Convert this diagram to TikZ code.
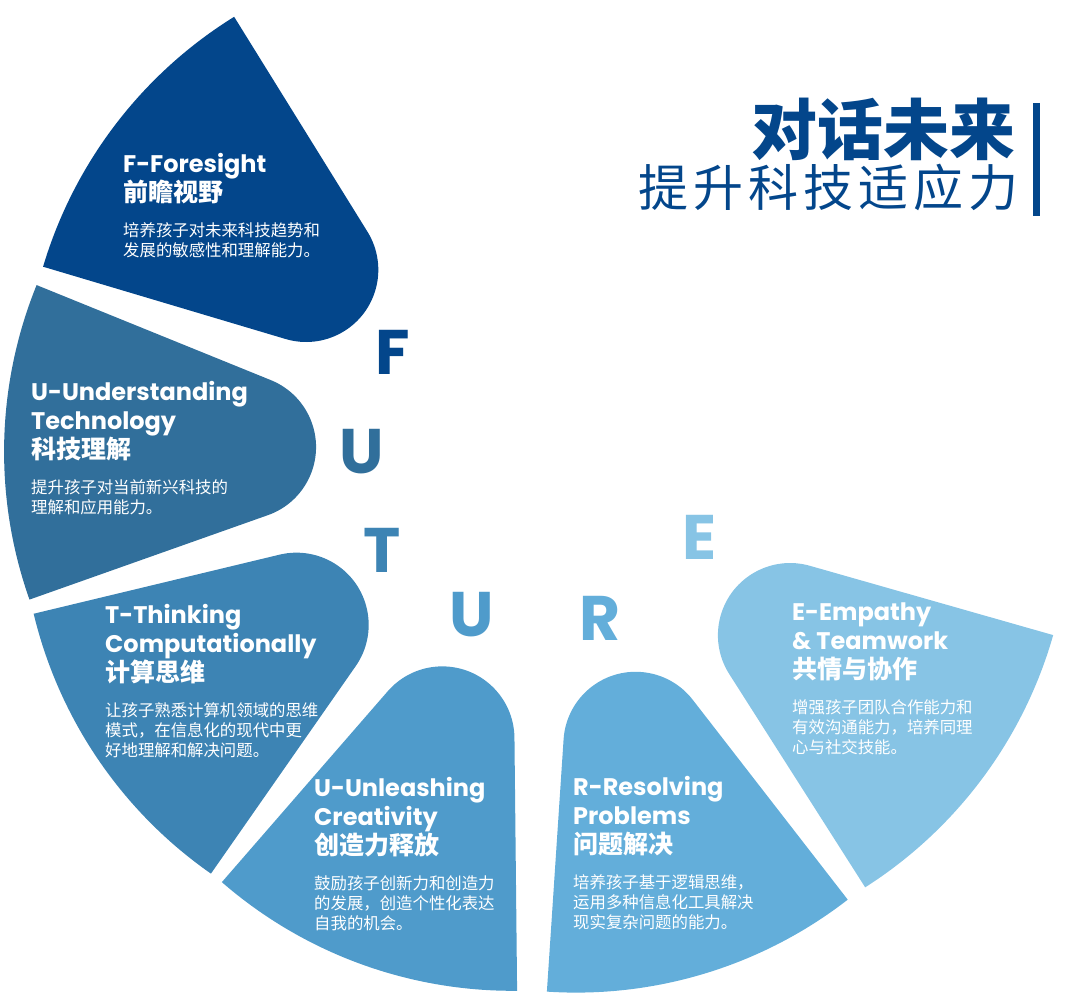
\documentclass[tikz,border=0pt]{standalone}
\usepackage{fontspec}
\usetikzlibrary{positioning, calc}
\setmainfont{Poppins}
\newfontfamily\cjk{Noto Sans CJK SC}
\newfontfamily\cjktrack{Noto Sans CJK SC}[LetterSpace=10]
\definecolor{blueF}{HTML}{03468B}
\definecolor{blueU}{HTML}{316F9B}
\definecolor{blueT}{HTML}{3D84B4}
\definecolor{blueUb}{HTML}{4F9BCB}
\definecolor{blueR}{HTML}{63AEDA}
\definecolor{blueE}{HTML}{87C4E5}
% one petal of the fan, #1 = direction, #2 = colour
\newcommand{\petal}[2]{%
  \begin{scope}[shift={(547,552)}, rotate=#1]
    \fill[#2] (100,0) ++(20.8:443) -- ($(100,0)+(20.8:190)$)
      arc[start angle=110.8, end angle=249.2, radius=72.2]
      -- ($(100,0)+(-20.8:443)$)
      arc[start angle=-20.8, end angle=20.8, radius=443] -- cycle;
  \end{scope}}
\tikzset{
  head/.style={anchor=north west, inner sep=0pt, align=left, text=white,
    font=\fontsize{24}{29}\selectfont\bfseries},
  desc/.style={inner sep=0pt, align=left, text=white,
    font=\cjk\fontsize{16.4}{20}\selectfont},
  letter/.style={inner sep=0pt, font=\fontsize{63}{63}\selectfont\bfseries}
}

\begin{document}
\begin{tikzpicture}[x=1pt, y=1pt]
  \useasboundingbox (0,0) rectangle (1080,1006);

  \petal{142.6}{blueF}
  \petal{178.7}{blueU}
  \petal{214.3}{blueT}
  \petal{249.8}{blueUb}
  \petal{287}{blueR}
  \petal{323.3}{blueE}

  % F
  \node[head] (fhead) at (123,853) {F-Foresight\\{\cjk\bfseries\fontsize{25}{29}\selectfont 前瞻视野}};
  \node[desc, below=18pt of fhead.south west, anchor=north west] (fdesc) {培养孩子对未来科技趋势和\\发展的敏感性和理解能力。};
  % U
  \node[head] (uhead) at (31,625) {U-Understanding\\Technology\\{\cjk\bfseries\fontsize{25}{29}\selectfont 科技理解}};
  \node[desc, below=18pt of uhead.south west, anchor=north west] (udesc) {提升孩子对当前新兴科技的\\理解和应用能力。};
  % T
  \node[head] (thead) at (105,402) {T-Thinking\\Computationally\\{\cjk\bfseries\fontsize{25}{29}\selectfont 计算思维}};
  \node[desc, below=18pt of thead.south west, anchor=north west] (tdesc) {让孩子熟悉计算机领域的思维\\模式，在信息化的现代中更\\好地理解和解决问题。};
  % U
  \node[head] (ubhead) at (314,229) {U-Unleashing\\Creativity\\{\cjk\bfseries\fontsize{25}{29}\selectfont 创造力释放}};
  \node[desc, below=18pt of ubhead.south west, anchor=north west] (ubdesc) {鼓励孩子创新力和创造力\\的发展，创造个性化表达\\自我的机会。};
  % R
  \node[head] (rhead) at (573,230) {R-Resolving\\Problems\\{\cjk\bfseries\fontsize{25}{29}\selectfont 问题解决}};
  \node[desc, below=18pt of rhead.south west, anchor=north west] (rdesc) {培养孩子基于逻辑思维，\\运用多种信息化工具解决\\现实复杂问题的能力。};
  % E
  \node[head] (ehead) at (792,403) {E-Empathy\\\& Teamwork\\{\cjk\bfseries\fontsize{25}{29}\selectfont 共情与协作}};
  \node[desc, below=18pt of ehead.south west, anchor=north west] (edesc) {增强孩子团队合作能力和\\有效沟通能力，培养同理\\心与社交技能。};

  % FUTURE
  \node[letter, text=blueF] (lf) at (393,654) {F};
  \node[letter, text=blueU] (lu) at (362,554) {U};
  \node[letter, text=blueT] (lt) at (382,456) {T};
  \node[letter, text=blueUb] (lub) at (472,391) {U};
  \node[letter, text=blueR] (lr) at (600,388) {R};
  \node[letter, text=blueE] (le) at (700,469) {E};

  % title
  \node[anchor=north east, inner sep=0pt, text=blueF, font=\cjk\bfseries\fontsize{66}{66}\selectfont] (title) at (1016,908) {对话未来};
  \node[anchor=north west, inner sep=0pt, text=blueF, font=\cjktrack\fontsize{50}{50}\selectfont] (subtitle) at (638,842) {提升科技适应力};
  \draw[blueF, line width=7pt] (1036,903) -- (1036,790);
\end{tikzpicture}
\end{document}
